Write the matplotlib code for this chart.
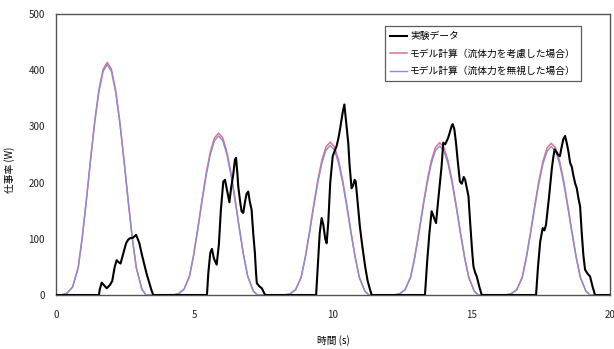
import numpy as np
import matplotlib
matplotlib.use("Agg")
import matplotlib.pyplot as plt

plt.rcParams["font.family"] = ["Noto Sans CJK JP", "DejaVu Sans"]

# model pulses (both model curves share one read shape, scaled per pulse)
pulse_centers = [1.85, 5.87, 9.90, 13.85, 17.88]
peaks_fluid = [414, 288, 272, 271, 270]
peaks_nofluid = [410, 283, 266, 265, 264]
shape_offsets = [-1.65, -1.45, -1.25, -1.05, -0.90, -0.75, -0.60, -0.45, -0.30, -0.15,
                 0.0, 0.15, 0.30, 0.45, 0.60, 0.75, 0.90, 1.05, 1.25, 1.40]
shape_values = [0.0, 0.008, 0.035, 0.117, 0.25, 0.413, 0.587, 0.75, 0.883, 0.970,
                1.0, 0.970, 0.883, 0.75, 0.587, 0.413, 0.25, 0.117, 0.025, 0.0]

# experimental data
exp_t = [0.0, 1.55, 1.58, 1.65, 1.72, 1.83, 1.95, 2.03, 2.12, 2.19, 2.27, 2.33, 2.42, 2.53,
         2.60, 2.67, 2.78, 2.89, 2.95, 3.01, 3.10, 3.18, 3.27, 3.37, 3.45, 3.51,
         5.45, 5.50, 5.57, 5.63, 5.70, 5.80, 5.88, 5.95, 6.04, 6.10, 6.18, 6.26, 6.32, 6.40,
         6.46, 6.50, 6.55, 6.58, 6.65, 6.70, 6.76, 6.82, 6.88, 6.94, 7.00, 7.06, 7.12, 7.18,
         7.22, 7.25, 7.35, 7.43, 7.50, 7.55,
         9.39, 9.45, 9.52, 9.59, 9.65, 9.72, 9.77, 9.83, 9.90, 9.99, 10.05, 10.13, 10.20,
         10.27, 10.35, 10.41, 10.46, 10.51, 10.55, 10.60, 10.67, 10.73, 10.78, 10.82, 10.88,
         10.97, 11.05, 11.16, 11.25, 11.34, 11.40,
         13.32, 13.40, 13.48, 13.56, 13.63, 13.72, 13.80, 13.92, 13.98, 14.05, 14.16, 14.22,
         14.28, 14.32, 14.38, 14.44, 14.50, 14.58, 14.65, 14.72, 14.77, 14.83, 14.89, 14.95,
         15.02, 15.07, 15.13, 15.19, 15.28, 15.37,
         17.33, 17.40, 17.48, 17.57, 17.63, 17.69, 17.80, 17.90, 17.95, 18.00, 18.06, 18.12,
         18.19, 18.26, 18.32, 18.38, 18.44, 18.50, 18.56, 18.62, 18.68, 18.74, 18.80, 18.86,
         18.92, 18.98, 19.04, 19.10, 19.19, 19.28, 19.37, 19.46, 20.0]
exp_p = [0, 0, 10, 22, 18, 12, 18, 25, 50, 62, 58, 56, 72, 92,
         98, 101, 102, 107, 100, 92, 72, 56, 38, 21, 8, 0,
         0, 40, 75, 82, 65, 54, 90, 150, 202, 205, 185, 165, 190, 215,
         241, 244, 215, 193, 165, 149, 146, 165, 180, 184, 165, 152, 110, 75,
         40, 21, 15, 12, 5, 0,
         0, 50, 110, 137, 125, 100, 92, 130, 200, 247, 255, 265, 280,
         300, 325, 339, 315, 290, 271, 230, 190, 195, 205, 202, 170,
         122, 90, 51, 25, 9, 0,
         0, 60, 110, 149, 140, 128, 170, 229, 271, 268, 280, 290,
         300, 304, 295, 271, 240, 202, 198, 210, 205, 190, 176, 130,
         80, 51, 40, 33, 15, 0,
         0, 50, 95, 119, 115, 125, 175, 225, 244, 259, 255, 250,
         247, 265, 278, 283, 270, 255, 235, 228, 212, 199, 190, 172,
         158, 110, 70, 45, 38, 33, 15, 0, 0]

labels = ["実験データ", "モデル計算（流体力を考慮した場合）", "モデル計算（流体力を無視した場合）"]


def build_model(peaks):
    t = [0.0]
    p = [0.0]
    for c, pk in zip(pulse_centers, peaks):
        t += [c + o for o in shape_offsets]
        p += [pk * v for v in shape_values]
    t.append(20.0)
    p.append(0.0)
    return t, p


fig = plt.figure(figsize=(6.14, 3.49), dpi=100)
ax = fig.add_axes([0.0912, 0.1547, 0.9023, 0.8052])

t_f, p_f = build_model(peaks_fluid)
t_n, p_n = build_model(peaks_nofluid)

ax.plot(exp_t, exp_p, color="black", lw=1.5, label=labels[0], zorder=4)
ax.plot(t_f, p_f, color="#e0708c", lw=1.1, label=labels[1], zorder=2)
ax.plot(t_n, p_n, color="#8c8cd0", lw=1.0, label=labels[2], zorder=3)

ax.set_xlim(0, 20)
ax.set_ylim(0, 500)
ax.set_xticks([0, 5, 10, 15, 20])
ax.set_yticks([0, 100, 200, 300, 400, 500])
ax.tick_params(length=0, labelsize=7, colors="#222222")
ax.tick_params(axis="x", pad=11)
ax.tick_params(axis="y", pad=8)
for s in ax.spines.values():
    s.set_color("#555555")
    s.set_linewidth(1.0)

ax.set_xlabel("時間 (s)", fontsize=7)
ax.xaxis.set_label_coords(0.5, -0.142)
ax.set_ylabel("仕事率 (W)", fontsize=7)
ax.yaxis.set_label_coords(-0.074, 0.445)

leg = ax.legend(loc="upper left", bbox_to_anchor=(0.594, 0.957), borderaxespad=0,
                fontsize=7, frameon=True, fancybox=False, edgecolor="#333333",
                handlelength=1.7, handletextpad=0.35, borderpad=0.55,
                labelspacing=0.75)
leg.get_frame().set_linewidth(0.9)

fig.savefig("out.png", dpi=100)
